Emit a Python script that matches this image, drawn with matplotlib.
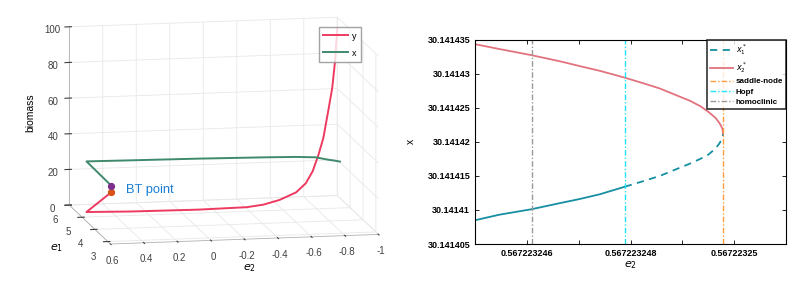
import numpy as np
import matplotlib.pyplot as plt
from matplotlib.ticker import FuncFormatter
from mpl_toolkits.mplot3d import proj3d

plt.rcParams['font.family'] = ['Liberation Sans', 'DejaVu Sans']
plt.rcParams['axes.unicode_minus'] = False

# ---- left panel: continuation curves in (e2, e1, biomass) ----
bt_e2 = 0.567
bt_e1 = 3.15
bt_x = 30.14
bt_y = 26.6

y_e2 = [0.567, 0.567, 0.3, -0.1, -0.39, -0.49, -0.585, -0.684, -0.742,
        -0.783, -0.818, -0.847, -0.876, -0.9, -0.917, -0.93]
y_e1 = [3.15, 5.09] + [5.09] * 14
y_val = [26.6, 2.2, 1.6, 1.3, 1.7, 2.8, 5.1, 9.0, 13.9, 20.5, 29.7, 39.0,
         54.0, 66.9, 82.0, 100.0]

x_e2 = [0.567, 0.567, 0.3, -0.102, -0.5, -0.684, -0.8, -0.876, -0.917, -0.946]
x_e1 = [3.15, 5.09] + [5.09] * 8
x_val = [30.14, 30.6, 30.3, 29.9, 29.3, 28.9, 28.3, 26.7, 26.0, 25.4]

# ---- right panel: equilibrium branches near the fold ----
up_e2 = [0.56722324501, 0.56722324547, 0.56722324609, 0.56722324664,
         0.56722324702, 0.56722324741, 0.56722324789, 0.56722324828,
         0.56722324857, 0.56722324886, 0.56722324915, 0.56722324935,
         0.56722324950, 0.56722324964, 0.56722324971, 0.56722324975,
         0.567223249776, 0.567223249786]
up_x = [30.1414343, 30.1414336, 30.1414327, 30.1414318, 30.1414311,
        30.1414304, 30.1414294, 30.1414285, 30.1414278, 30.1414269,
        30.1414260, 30.1414252, 30.1414244, 30.1414235, 30.1414228,
        30.1414223, 30.1414218, 30.1414212]

lo_e2 = [0.56722324501, 0.56722324547, 0.56722324609, 0.56722324664,
         0.56722324702, 0.56722324741, 0.56722324789]
lo_x = [30.1414085, 30.1414093, 30.1414101, 30.1414110, 30.1414116,
        30.1414123, 30.1414134]
un_e2 = [0.56722324789, 0.56722324828, 0.56722324857, 0.56722324886,
         0.56722324915, 0.56722324935, 0.56722324950, 0.56722324964,
         0.56722324971, 0.56722324975, 0.567223249776, 0.567223249786]
un_x = [30.1414134, 30.1414143, 30.1414150, 30.1414159, 30.1414168,
        30.1414175, 30.1414181, 30.1414190, 30.1414197, 30.1414202,
        30.1414206, 30.1414212]

saddle_node = 0.567223249786
hopf = 0.56722324789
homoclinic = 0.56722324610

red = '#ee3a60'
green = '#3f8a6c'
teal = '#168fa3'
pink = '#e2737e'
dashdot = (0, (4, 1.5, 1, 1.5))

fig = plt.figure(figsize=(8.11, 2.94), dpi=100)

# left 3D axes
ax = fig.add_axes([0.011, 0.032, 0.52, 1.02], projection='3d', proj_type='ortho')
ax.set_box_aspect((280, 221, 186), zoom=1.27)
ax.view_init(elev=10.6, azim=-101)

ax.plot(y_e2, y_e1, y_val, color=red, lw=1.4, label='y')
ax.plot(x_e2, x_e1, x_val, color=green, lw=1.4, label='x')
ax.scatter([bt_e2], [bt_e1], [bt_x], color='#7e2f8e', s=18, depthshade=False)
ax.scatter([bt_e2], [bt_e1], [bt_y], color='#d95319', s=18, depthshade=False)

ax.set_xlim(0.6, -1)
ax.set_ylim(2.8, 6)
ax.set_zlim(0, 100)
ax.set_xticks([0.6, 0.4, 0.2, 0, -0.2, -0.4, -0.6, -0.8, -1])
ax.set_yticks([3, 4, 5, 6])
ax.set_zticks([0, 20, 40, 60, 80, 100])
ax.xaxis.set_major_formatter(FuncFormatter(lambda v, p: '%g' % v))
ax.xaxis.set_rotate_label(False)
ax.yaxis.set_rotate_label(False)
ax.set_xlabel('$e_2$', fontsize=8, labelpad=-6)
ax.set_ylabel('$e_1$', fontsize=8, labelpad=-7)
ax.set_zlabel('biomass', fontsize=7.5, labelpad=-7)
for axis in (ax.xaxis, ax.yaxis, ax.zaxis):
    axis.set_pane_color((1, 1, 1, 0))
    axis.pane.set_edgecolor('#d9d9d9')
    axis._axinfo['grid'].update(color='#e8e8e8', linewidth=0.6)
    axis.line.set_color('#b0b0b0')
    axis.line.set_linewidth(0.6)
ax.tick_params(labelsize=7, colors='#404040', pad=-2)
ax.legend(loc='upper right', bbox_to_anchor=(361 / 811, 1 - 27 / 294),
          bbox_transform=fig.transFigure, fontsize=6.5, handlelength=2.8,
          labelspacing=0.9, borderpad=0.5, handletextpad=0.4,
          fancybox=False, edgecolor='#8c8c8c', borderaxespad=0)

# label next to the BT point, placed through the 3D projection
tx, ty, _ = proj3d.proj_transform(0.48, bt_e1, 27.5, ax.get_proj())
ax.text2D(tx, ty, 'BT point', transform=ax.transData, color='#1a7fd4',
          fontsize=9.3, va='center')

# right 2D axes
ax2 = fig.add_axes([475 / 811, 50 / 294, 311 / 811, 204.5 / 294])
ax2.plot(un_e2, un_x, color=teal, lw=1.3, ls=(0, (4, 3)), label='$x^*_1$')
ax2.plot(up_e2, up_x, color=pink, lw=1.3, label='$x^*_2$')
ax2.plot(lo_e2, lo_x, color=teal, lw=1.3)
ax2.axvline(saddle_node, color='#ff9c3c', lw=1.0, ls=dashdot, label='saddle-node')
ax2.axvline(hopf, color='#1fe3f2', lw=1.0, ls=dashdot, label='Hopf')
ax2.axvline(homoclinic, color='#9a9a9a', lw=1.0, ls=dashdot, label='homoclinic')

ax2.set_xlim(0.567223245, 0.567223251)
ax2.set_ylim(30.141405, 30.141435)
xt = [0.567223245, 0.567223246, 0.567223247, 0.567223248, 0.567223249,
      0.567223250, 0.567223251]
ax2.set_xticks(xt)
ax2.xaxis.set_major_formatter(FuncFormatter(
    lambda v, p: ('%.9g' % v) if p in (1, 3, 5) else ''))
ax2.set_yticks(np.linspace(30.141405, 30.141435, 7))
ax2.yaxis.set_major_formatter(FuncFormatter(lambda v, p: '%.8g' % v))
ax2.tick_params(direction='in', top=True, right=True, length=3, width=0.6,
                labelsize=6.5)
for lab in ax2.get_xticklabels() + ax2.get_yticklabels():
    lab.set_fontweight('bold')
for s in ax2.spines.values():
    s.set_linewidth(0.8)
ax2.set_xlabel('$e_2$', fontsize=8, labelpad=1)
ax2.set_ylabel('x', fontsize=7.5, labelpad=8)
leg = ax2.legend(loc='upper right', handlelength=2.9, fancybox=False,
                 edgecolor='black', borderaxespad=0, labelspacing=0.35,
                 handletextpad=0.3, borderpad=0.35,
                 prop={'weight': 'bold', 'size': 5.8})
leg.get_frame().set_linewidth(1.2)

fig.savefig('out.png', dpi=100)
